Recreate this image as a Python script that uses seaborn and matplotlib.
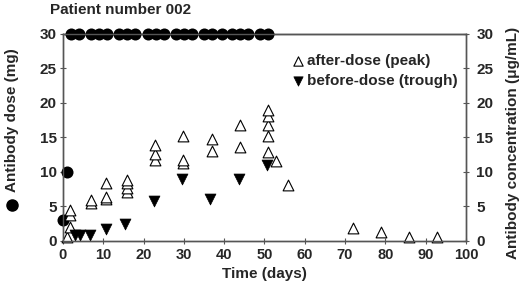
import matplotlib
matplotlib.use("Agg")
import matplotlib.pyplot as plt
import seaborn as sns
import pandas as pd
from matplotlib.lines import Line2D

sns.set_theme(style="white")
plt.rcParams['font.family'] = ['Liberation Sans', 'DejaVu Sans']
plt.rcParams['font.weight'] = 'bold'

# ---- data ----
dose_days = [0, 1, 2, 4, 7, 9, 11, 14, 16, 18, 21, 23, 25, 28, 30, 32,
             35, 37, 39.5, 42, 44, 46, 49, 51]
dose_mg = [3, 10] + [30] * 22

peak_days = [1, 1.7, 1.7, 1.7, 7, 7, 10.8, 10.8, 10.8, 15.8, 15.8, 15.8, 15.8,
             22.8, 22.8, 22.8, 29.9, 29.9, 29.9, 36.9, 36.9, 43.9, 43.9,
             50.9, 50.9, 50.9, 50.9, 50.9, 52.9, 55.9, 71.9, 78.9, 85.9, 92.8]
peak_conc = [0.5, 2.0, 3.7, 4.4, 5.4, 5.9, 6.0, 6.4, 8.3, 7.1, 7.6, 8.3, 8.8,
             11.7, 12.5, 13.8, 11.3, 11.7, 15.1, 13.0, 14.7, 13.6, 16.8,
             12.9, 15.2, 16.8, 18.0, 19.0, 11.5, 8.1, 1.9, 1.3, 0.6, 0.6]

trough_days = [3, 4.2, 6.8, 10.6, 15.5, 22.5, 29.5, 36.6, 43.6, 50.6]
trough_conc = [0.8, 0.8, 0.8, 1.7, 2.4, 5.8, 9.0, 6.1, 8.9, 10.9]

xticks = list(range(0, 101, 10))
yticks = list(range(0, 31, 5))

dose_df = pd.DataFrame({"day": dose_days, "mg": dose_mg})
peak_df = pd.DataFrame({"day": peak_days, "conc": peak_conc})
trough_df = pd.DataFrame({"day": trough_days, "conc": trough_conc})

fig = plt.figure(figsize=(5.2, 2.9), dpi=100)
ax = fig.add_axes([0.121, 0.170, 0.775, 0.714])
ax2 = ax.twinx()

sns.scatterplot(data=dose_df, x="day", y="mg", ax=ax, marker="o", s=75,
                color="black", edgecolor="black", linewidth=0, clip_on=False,
                zorder=5, legend=False)
sns.scatterplot(data=peak_df, x="day", y="conc", ax=ax2, marker="^", s=60,
                facecolor="white", edgecolor="black", linewidth=0.8,
                clip_on=False, label="after-dose (peak)")
sns.scatterplot(data=trough_df, x="day", y="conc", ax=ax2, marker="v", s=62,
                color="black", edgecolor="black", linewidth=0.5,
                clip_on=False, label="before-dose (trough)")

for a in (ax, ax2):
    a.set_xlim(0, 100)
    a.set_ylim(0, 30)
    for s in a.spines.values():
        s.set_color("#555555")
        s.set_linewidth(1.0)
ax.spines['top'].set_color('black')

ax.set_xticks(xticks)
ax.set_yticks(yticks)
ax2.set_yticks(yticks)
ax.tick_params(axis='x', direction='inout', length=5, width=0.8,
               color="#555555", labelsize=10.5, pad=3, bottom=True)
ax.tick_params(axis='y', direction='inout', length=5, width=0.8,
               color="#555555", labelsize=11, pad=2, left=True)
ax2.tick_params(axis='y', direction='inout', length=5, width=0.8,
                color="#555555", labelsize=11, pad=5, right=True)
for lab in ax.get_xticklabels() + ax.get_yticklabels() + ax2.get_yticklabels():
    lab.set_fontweight('bold')

ax.set_xlabel("Time (days)", fontsize=11, fontweight='bold', labelpad=3)
ax.set_ylabel("")
ax2.set_ylabel("")
ax.text(-0.127, 0.58, "Antibody dose (mg)", transform=ax.transAxes,
        rotation=90, ha='center', va='center', fontsize=11, fontweight='bold')
ax.add_line(Line2D([-0.127], [0.172], transform=ax.transAxes, marker='o',
                   markersize=8, color='black', linestyle='none', clip_on=False))
ax2.text(1.118, 0.47, "Antibody concentration (μg/mL)", transform=ax.transAxes,
         rotation=90, ha='center', va='center', fontsize=11, fontweight='bold')

fig.text(0.096, 0.965, "Patient number 002", ha='left', va='center',
         fontsize=11, fontweight='bold')

leg = ax2.legend(loc='upper right', bbox_to_anchor=(0.995, 0.93), frameon=False,
                 handletextpad=0.1, handlelength=1.0, labelspacing=0.4,
                 borderaxespad=0.0, prop={'weight': 'bold', 'size': 11})
for h in leg.legend_handles:
    h.set_sizes([45])

fig.savefig("out.png", dpi=100)
